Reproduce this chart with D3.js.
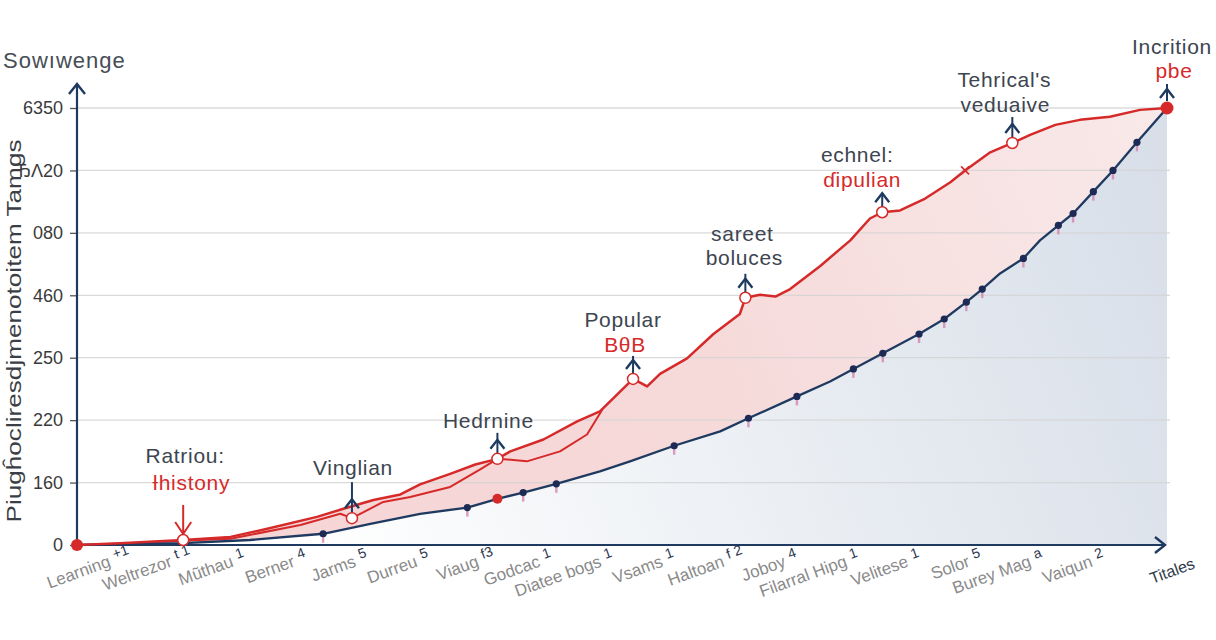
<!doctype html>
<html lang="en">
<head>
<meta charset="utf-8">
<script src="https://d3js.org/d3.v7.min.js"></script>
<style>
  body { margin: 0; background: #ffffff; }
  text { font-family: "Liberation Sans", Arial, sans-serif; }
</style>
</head>
<body>
<div id="chart"></div>
<script>
// categories along the bottom axis, with the little dark marks next to them
var xLabels = ["Learning", "Weltrezor", "Mũthau", "Berner", "Jarms", "Durreu", "Viaug", "Godcac",
  "Diatee bogs", "Vsams", "Haltoan", "Joboy", "Filarral Hipg", "Velitese", "Solor", "Burey Mag", "Vaiqun"];
var xMarks = ["+1", "t 1", "1", "4", "5", "5", "f3", "1", "1", "1", "f 2", "4", "1", "1", "5", "a", "2"];

// y tick labels, bottom to top
var yTickLabels = ["0", "160", "220", "250", "460", "080", "ЂΛ20", "6350"];

// red series (x in category units, y in tick units)
var redX = [-0.67, 0.03, 1.06, 1.83, 2.43, 3.24, 3.67, 4.16, 4.60, 4.92, 5.41, 5.82, 6.18, 6.39, 6.93,
  7.48, 7.85, 8.10, 8.39, 8.62, 8.83, 9.27, 9.70, 10.13, 10.22, 10.46, 10.71, 10.95, 11.44, 11.93,
  12.25, 12.45, 12.74, 13.15, 13.56, 13.80, 14.21, 14.57, 14.86, 15.27, 15.67, 16.16, 16.65, 17.09];
var redY = [0, 0.03, 0.08, 0.13, 0.26, 0.45, 0.58, 0.72, 0.81, 0.97, 1.14, 1.29, 1.38, 1.50, 1.69,
  1.98, 2.14, 2.38, 2.66, 2.54, 2.74, 2.99, 3.38, 3.70, 3.96, 4.01, 3.98, 4.10, 4.47, 4.88,
  5.23, 5.33, 5.36, 5.55, 5.81, 6.00, 6.29, 6.44, 6.57, 6.73, 6.81, 6.86, 6.97, 7.00];

// second red trace that loops around the first one
var redAltX = [0.52, 1.83, 2.97, 3.62, 3.81, 4.32, 4.76, 5.41, 5.90, 6.18, 6.34, 6.66, 7.20, 7.64, 7.89];
var redAltY = [0.05, 0.10, 0.32, 0.50, 0.43, 0.69, 0.77, 0.93, 1.21, 1.38, 1.37, 1.34, 1.50, 1.77, 2.17];

// navy series
var blueX = [-0.67, 0.20, 1.06, 2.15, 3.34, 4.11, 4.92, 5.69, 6.18, 6.60, 7.14, 7.85, 8.34, 9.06,
  9.81, 10.27, 11.06, 11.60, 11.98, 12.46, 13.05, 13.46, 13.82, 14.08, 14.37, 14.75, 15.02, 15.32,
  15.56, 15.89, 16.21, 16.60, 17.09];
var blueY = [0, 0.02, 0.03, 0.08, 0.18, 0.34, 0.50, 0.60, 0.74, 0.84, 0.98, 1.18, 1.34, 1.59,
  1.82, 2.03, 2.38, 2.62, 2.82, 3.07, 3.38, 3.62, 3.89, 4.10, 4.35, 4.59, 4.88, 5.12,
  5.31, 5.66, 6.00, 6.45, 7.00];
// 1 = navy dot, 2 = red dot, 0 = none
var blueDot = [0, 0, 0, 0, 1, 0, 0, 1, 2, 1, 1, 0, 0, 1, 0, 1, 1, 0, 1, 1, 1, 1, 1, 1, 0, 1, 0, 1, 1, 1, 1, 1, 0];

// annotations
var annX = [1.06, 3.81, 6.18, 8.39, 10.22, 12.45, 14.57, 17.09];
var annY = [0.08, 0.43, 1.38, 2.66, 3.96, 5.33, 6.44, 7.00];
var annLine1 = ["Ratriou:", "Vinglian", "Hedrnine", "Popular", "sareet", "echnel:", "Tehrical's", "Incrition"];
var annLine2 = ["Ɨhistony", "", "", "BθB", "boluces", "ɗipulian", "veduaive", "pbe"];
var annLine2Red = [true, false, false, true, false, true, false, true];

var W = 1216, H = 640;
var x0 = 77, x1 = 1167, yBase = 545, yTop = 108;

var x = d3.scaleLinear().domain([-0.67, 17.09]).range([x0, x1]);
var y = d3.scaleLinear().domain([0, 7]).range([yBase, yTop]);

var red = "#d62a2a", navy = "#1f3a60", ink = "#3c4550";

var svg = d3.select("#chart").append("svg")
  .attr("width", W).attr("height", H);

var defs = svg.append("defs");
var pg = defs.append("linearGradient").attr("id", "pinkFill")
  .attr("gradientUnits", "userSpaceOnUse")
  .attr("x1", 150).attr("y1", 545).attr("x2", 1167).attr("y2", 108);
pg.append("stop").attr("offset", "0%").attr("stop-color", "#f6d4d4");
pg.append("stop").attr("offset", "50%").attr("stop-color", "#f6d9d9");
pg.append("stop").attr("offset", "100%").attr("stop-color", "#f9e9e9");

var bg = defs.append("linearGradient").attr("id", "blueFill")
  .attr("gradientUnits", "userSpaceOnUse")
  .attr("x1", 300).attr("y1", 545).attr("x2", 1167).attr("y2", 200);
bg.append("stop").attr("offset", "0%").attr("stop-color", "#ffffff");
bg.append("stop").attr("offset", "55%").attr("stop-color", "#e9edf2");
bg.append("stop").attr("offset", "100%").attr("stop-color", "#d8dfe9");

var redData = redX.map(function(v, i) { return [v, redY[i]]; });
var redAlt = redAltX.map(function(v, i) { return [v, redAltY[i]]; });
var blueData = blueX.map(function(v, i) { return [v, blueY[i], blueDot[i]]; });

var area = d3.area()
  .x(function(d) { return x(d[0]); })
  .y0(y(0))
  .y1(function(d) { return y(d[1]); });
var line = d3.line()
  .x(function(d) { return x(d[0]); })
  .y(function(d) { return y(d[1]); });

// fills
svg.append("path").attr("d", area(redData)).attr("fill", "url(#pinkFill)");
svg.append("path").attr("d", area(blueData)).attr("fill", "url(#blueFill)");

// grid
svg.append("g")
  .selectAll("line")
  .data(d3.range(1, 8))
  .enter().append("line")
  .attr("x1", x0).attr("x2", 1170)
  .attr("y1", function(d) { return y(d); })
  .attr("y2", function(d) { return y(d); })
  .attr("stroke", "#d4d4d4")
  .attr("stroke-opacity", 0.85)
  .attr("stroke-width", 1.3);

// y axis ticks + labels
var yAxis = svg.append("g")
  .attr("transform", "translate(" + x0 + ",0)")
  .call(d3.axisLeft(y).tickValues(d3.range(8))
    .tickFormat(function(i) { return yTickLabels[i]; })
    .tickSize(7).tickPadding(7));
yAxis.select(".domain").remove();
yAxis.selectAll(".tick line").attr("stroke", "#555").attr("stroke-width", 1.3);
yAxis.selectAll(".tick text")
  .attr("fill", "#3a3a3a")
  .style("font-size", "18px")
  .style("font-family", "'Liberation Sans', Arial, sans-serif");

// x axis labels
var xAxis = svg.append("g")
  .attr("transform", "translate(0," + yBase + ")")
  .call(d3.axisBottom(x).tickValues(d3.range(xLabels.length))
    .tickFormat("").tickSize(0));
xAxis.select(".domain").remove();
xAxis.selectAll(".tick").each(function(d) {
  var t = d3.select(this);
  t.append("text")
    .attr("transform", "translate(-7,21) rotate(-20)")
    .attr("text-anchor", "end")
    .attr("fill", "#8a8a8a")
    .style("font-size", "17px")
    .text(xLabels[d]);
  t.append("text")
    .attr("transform", "translate(-4,14) rotate(-20)")
    .attr("text-anchor", "start")
    .attr("fill", "#2a3550")
    .style("font-size", "14px")
    .text(xMarks[d]);
});

// axis lines with arrowheads
svg.append("line").attr("x1", x0).attr("x2", x0).attr("y1", yBase).attr("y2", 84)
  .attr("stroke", navy).attr("stroke-width", 2.2);
svg.append("path").attr("d", "M" + (x0 - 8) + ",94L" + x0 + ",84L" + (x0 + 8) + ",94")
  .attr("fill", "none").attr("stroke", navy).attr("stroke-width", 2.4);
svg.append("line").attr("x1", x0).attr("x2", 1165).attr("y1", yBase).attr("y2", yBase)
  .attr("stroke", navy).attr("stroke-width", 2.2);
svg.append("path").attr("d", "M1155," + (yBase - 8) + "L1165," + yBase + "L1155," + (yBase + 8))
  .attr("fill", "none").attr("stroke", navy).attr("stroke-width", 2.4);

svg.append("text")
  .attr("transform", "translate(1174,576) rotate(-20)")
  .attr("text-anchor", "middle")
  .attr("fill", "#2f3a48")
  .style("font-size", "16px")
  .text("Titales");

// lines
svg.append("path").attr("d", line(redAlt))
  .attr("fill", "none").attr("stroke", red).attr("stroke-width", 2)
  .attr("stroke-linejoin", "round");
svg.append("path").attr("d", line(blueData))
  .attr("fill", "none").attr("stroke", navy).attr("stroke-width", 2.3)
  .attr("stroke-linejoin", "round");
svg.append("path").attr("d", line(redData))
  .attr("fill", "none").attr("stroke", red).attr("stroke-width", 2.5)
  .attr("stroke-linejoin", "round");

// markers on the navy line
var marked = blueData.filter(function(d) { return d[2] > 0; });
svg.append("g").selectAll("rect")
  .data(marked.filter(function(d) { return d[2] === 1; }))
  .enter().append("rect")
  .attr("x", function(d) { return x(d[0]) - 1.2; })
  .attr("y", function(d) { return y(d[1]) + 3; })
  .attr("width", 2.4).attr("height", 6)
  .attr("fill", "#d27cab").attr("opacity", 0.75);
svg.append("g").selectAll("circle")
  .data(marked)
  .enter().append("circle")
  .attr("cx", function(d) { return x(d[0]); })
  .attr("cy", function(d) { return y(d[1]); })
  .attr("r", function(d) { return d[2] === 2 ? 5 : 3.6; })
  .attr("fill", function(d) { return d[2] === 2 ? red : "#1d2a55"; });

// small cross on the red line
svg.append("path")
  .attr("d", "M" + (x(13.80) - 4) + "," + (y(6.0) - 4) + "l8,8M" + (x(13.80) + 4) + "," + (y(6.0) - 4) + "l-8,8")
  .attr("stroke", red).attr("stroke-width", 1.6);

// end dots
svg.append("circle").attr("cx", x(redX[0])).attr("cy", y(redY[0])).attr("r", 6).attr("fill", red);
svg.append("circle").attr("cx", x(redX[redX.length - 1])).attr("cy", y(redY[redY.length - 1]))
  .attr("r", 6.5).attr("fill", red);

// annotation layout: text centres / baselines relative to the point, arrow top
var annLayout = [
  {dx1: 2, dy1: -77, dx2: 8, dy2: -50, top: -35, down: true},
  {dx1: 1, dy1: -43, top: -36},
  {dx1: -9, dy1: -31, top: -26},
  {dx1: -10, dy1: -52, dx2: -8, dy2: -27, top: -23},
  {dx1: -3, dy1: -57, dx2: -1, dy2: -33, top: -24},
  {dx1: -25, dy1: -50, dx2: -20, dy2: -25, top: -19},
  {dx1: -8, dy1: -56, dx2: -7, dy2: -31, top: -26},
  {dx1: 5, dy1: -54, dx2: 7, dy2: -30, top: -24}
];

annX.forEach(function(v, i) {
  var px = x(v), py = y(annY[i]), L = annLayout[i];
  var g = svg.append("g");
  var last = i === annX.length - 1;
  if (L.down) {
    g.append("line").attr("x1", px).attr("x2", px).attr("y1", py + L.top).attr("y2", py - 6)
      .attr("stroke", red).attr("stroke-width", 2);
    g.append("path").attr("d", "M" + (px - 8) + "," + (py - 18) + "L" + px + "," + (py - 6) + "L" + (px + 8) + "," + (py - 18))
      .attr("fill", "none").attr("stroke", red).attr("stroke-width", 2);
  } else {
    g.append("line").attr("x1", px).attr("x2", px).attr("y1", py + L.top).attr("y2", py - (last ? 7 : 4))
      .attr("stroke", navy).attr("stroke-width", 2);
    g.append("path").attr("d", "M" + (px - 7) + "," + (py - 10) + "L" + px + "," + (py - 19) + "L" + (px + 7) + "," + (py - 10))
      .attr("fill", "none").attr("stroke", navy).attr("stroke-width", 2.4);
  }
  if (!last) {
    g.append("circle").attr("cx", px).attr("cy", py).attr("r", 5.5)
      .attr("fill", "#ffffff").attr("stroke", red).attr("stroke-width", 1.5);
  }
  g.append("text")
    .attr("x", px + L.dx1).attr("y", py + L.dy1)
    .attr("text-anchor", "middle")
    .attr("fill", ink)
    .style("font-size", "21px")
    .style("letter-spacing", "0.7px")
    .text(annLine1[i]);
  if (annLine2[i]) {
    g.append("text")
      .attr("x", px + L.dx2).attr("y", py + L.dy2)
      .attr("text-anchor", "middle")
      .attr("fill", annLine2Red[i] ? red : ink)
      .style("font-size", "21px")
      .style("letter-spacing", "0.7px")
      .text(annLine2[i]);
  }
});

// titles
svg.append("text")
  .attr("x", 3).attr("y", 68)
  .attr("fill", "#474d55")
  .style("font-size", "22px")
  .style("letter-spacing", "1px")
  .text("Sowıwenge");

svg.append("text")
  .attr("transform", "translate(21,331) rotate(-90)")
  .attr("text-anchor", "middle")
  .attr("fill", "#3b3f45")
  .style("font-size", "21px")
  .attr("textLength", 383)
  .attr("lengthAdjust", "spacingAndGlyphs")
  .text("Piugĥocliresdjmenotoitem Tamgs");
</script>
</body>
</html>
